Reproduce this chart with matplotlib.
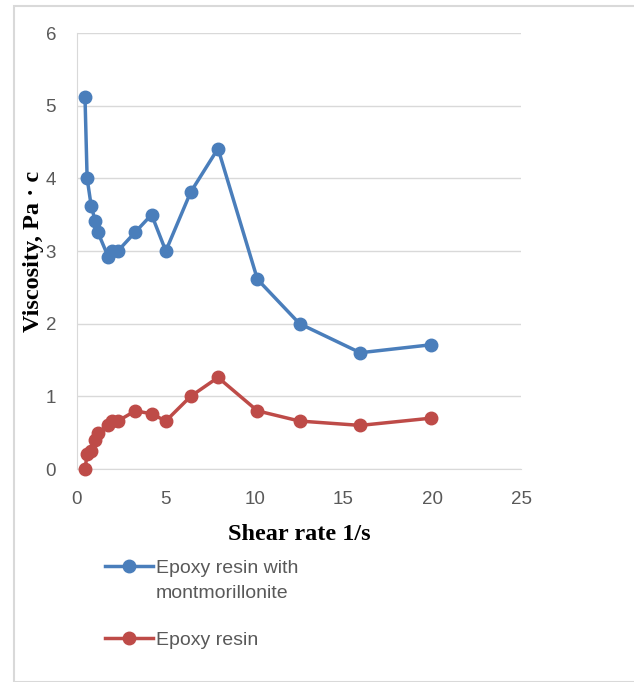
import matplotlib.pyplot as plt
from matplotlib.lines import Line2D
from matplotlib.patches import Rectangle

# Shear rate (1/s) and viscosity (Pa·c)
shear_rate = [0.45, 0.57, 0.8, 1.03, 1.17, 1.76, 1.97, 2.3, 3.28, 4.2, 5.0,
              6.4, 7.94, 10.16, 12.53, 15.95, 19.95]
visc_mmt = [5.12, 4.0, 3.62, 3.41, 3.26, 2.92, 3.0, 3.0, 3.26, 3.5, 3.0,
            3.81, 4.41, 2.61, 2.0, 1.6, 1.71]
visc_epoxy = [0.0, 0.2, 0.25, 0.4, 0.5, 0.6, 0.66, 0.66, 0.8, 0.76, 0.66,
              1.0, 1.26, 0.8, 0.66, 0.6, 0.7]

labels = ["Epoxy resin with\nmontmorillonite", "Epoxy resin"]
colors = ["#4a7ebb", "#be4b48"]

fig = plt.figure(figsize=(6.34, 6.82), dpi=100)
W, H = 634, 682
ax = fig.add_axes([77 / W, 1 - 469 / H, (521 - 77) / W, (469 - 33) / H])

# outer chart frame
fig.patches.append(Rectangle((14 / W, 0), 1.0, 1 - 6 / H, transform=fig.transFigure,
                             fill=False, edgecolor="#d9d9d9", linewidth=1.5))

lines = []
for y, lab, c in zip([visc_mmt, visc_epoxy], labels, colors):
    ln, = ax.plot(shear_rate, y, color=c, linewidth=2.5, marker="o", markersize=9,
                  label=lab, clip_on=False, zorder=3)
    lines.append(ln)

ax.set_xlim(0, 25)
ax.set_ylim(0, 6)
ax.set_xticks(range(0, 26, 5))
ax.set_yticks(range(0, 7))
ax.grid(axis="y", color="#d9d9d9", linewidth=1)
ax.set_axisbelow(True)
for s in ["top", "right"]:
    ax.spines[s].set_visible(False)
for s in ["left", "bottom"]:
    ax.spines[s].set_color("#d9d9d9")
ax.tick_params(length=0, colors="#595959", labelsize=13.5)
ax.tick_params(axis="y", pad=15)
ax.tick_params(axis="x", pad=16)
for t in ax.get_xticklabels() + ax.get_yticklabels():
    t.set_fontfamily("Liberation Sans")

ax.set_xlabel("Shear rate 1/s", fontfamily="Liberation Serif", fontweight="bold",
              fontsize=17.5, labelpad=11)
ax.set_ylabel("Viscosity, Pa · c", fontfamily="Liberation Serif", fontweight="bold",
              fontsize=17.5)
ax.yaxis.set_label_coords(-33 / (521 - 77), 0.5)

# legend: first label wraps onto a second line, handle sits on the first line
blank = Line2D([], [], linestyle="none")
first, second = labels[0].split("\n")
leg = fig.legend([lines[0], blank, lines[1]], [first, second + "\n", labels[1]],
                 loc="upper left", bbox_to_anchor=(87 / W, 1 - 542 / H), frameon=False,
                 prop={"family": "Liberation Sans", "size": 14}, labelcolor="#595959",
                 handlelength=2.5, handletextpad=0.15, labelspacing=0.42)
for t in leg.get_texts():
    t.set_linespacing(1.3)

plt.savefig("out.png", dpi=100)
